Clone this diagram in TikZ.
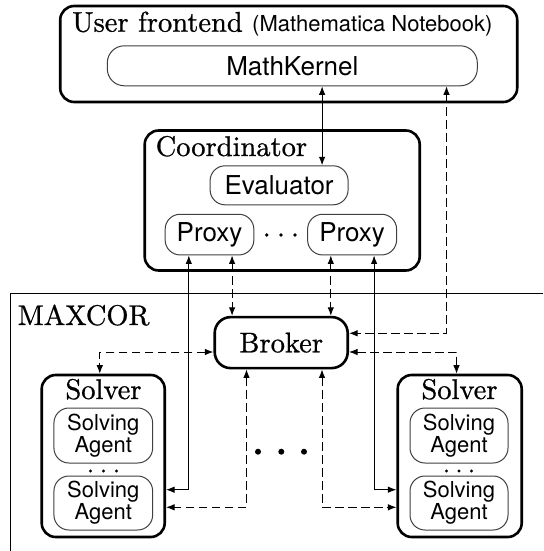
\documentclass[tikz,border=0pt]{standalone}
\usepackage{fontspec}
\setsansfont{TeX Gyre Heros}
\newfontfamily\tenSerif{lmroman10-regular.otf}[FakeBold=0.8]
\usetikzlibrary{arrows.meta}
\newcommand{\mySerifBig}{\tenSerif\fontsize{28.5}{32}\selectfont}
\newcommand{\mySansMid}{\sffamily\fontsize{26}{30}\selectfont}
\newcommand{\mySansSmall}{\sffamily\fontsize{22}{22}\selectfont}
\begin{document}
\begin{tikzpicture}[x=1pt,y=-1pt,
  bigbox/.style={draw,line width=2.6pt,rounded corners=14pt,inner sep=0pt,fill=white},
  inbox/.style={draw=black!75,line width=1pt,rounded corners=15pt,inner sep=0pt,fill=white},
  conn/.style={line width=1pt,{Latex[length=8.5pt,width=6.5pt]}-{Latex[length=8.5pt,width=6.5pt]}},
  dconn/.style={conn,dash pattern=on 8.5pt off 4.5pt},
  ttl/.style={inner sep=0pt,font=\mySerifBig},
  framestyle/.style={line width=1pt}]
\useasboundingbox (0,0) rectangle (543,551);
\fill[white] (0,0) rectangle (543,551);

% MAXCOR frame
\draw[framestyle] (10.4,551) -- (10.4,293.3) -- (543,293.3);
\node[ttl,anchor=base west] (mx) at (17.5,325) {MAXCOR};

% User frontend
\node[bigbox,minimum width=457pt,minimum height=96pt] (uf) at (288.7,54) {};
\node[ttl,anchor=base west] (uft) at (72,31.7) {User frontend {\mySansSmall(Mathematica Notebook)}};
\node[inbox,rounded corners=17pt,minimum width=370pt,minimum height=40pt,font=\mySansMid] (mk) at (292.3,65.8) {MathKernel};

% Coordinator
\node[bigbox,minimum width=275pt,minimum height=140pt] (co) at (282.2,200.5) {};
\node[ttl,anchor=base west] (cot) at (155.5,156) {Coordinator};
\node[inbox,minimum width=138pt,minimum height=39pt,font=\mySansMid] (ev) at (279.1,185.3) {Evaluator};
\node[inbox,minimum width=88.7pt,minimum height=40.7pt,font=\mySansMid] (p1) at (209.5,234.6) {Proxy};
\node[inbox,minimum width=89pt,minimum height=40.7pt,font=\mySansMid] (p2) at (352.1,234.6) {Proxy};
\fill (266.7,235) circle (1.8pt) (281,235) circle (1.8pt) (295,235) circle (1.8pt);

% Broker
\node[bigbox,rounded corners=16pt,minimum width=133pt,minimum height=51pt,font=\mySerifBig] (br) at (281.2,342.6) {Broker};

% Solvers
\node[bigbox,minimum width=123pt,minimum height=162pt] (sl) at (103.2,456) {};
\node[ttl,anchor=base] (slt) at (103.5,399) {Solver};
\fill (90.5,471) circle (1.6pt) (103.5,471) circle (1.6pt) (116.5,471) circle (1.6pt);
\node[inbox,minimum width=98.7pt,minimum height=55pt,align=center,font=\mySansSmall] (sl1) at (103.3,435.5) {Solving\\Agent};
\node[inbox,minimum width=98.7pt,minimum height=54pt,align=center,font=\mySansSmall] (sl2) at (103.3,503) {Solving\\Agent};

\node[bigbox,minimum width=124pt,minimum height=162pt] (sr) at (459.7,456) {};
\node[ttl,anchor=base] (srt) at (459.5,399) {Solver};
\fill (446.5,471) circle (1.6pt) (459,471) circle (1.6pt) (471.5,471) circle (1.6pt);
\node[inbox,minimum width=98pt,minimum height=55pt,align=center,font=\mySansSmall] (sr1) at (459,435.5) {Solving\\Agent};
\node[inbox,minimum width=98pt,minimum height=54pt,align=center,font=\mySansSmall] (sr2) at (459,503) {Solving\\Agent};

% big dots
\fill (258,451.7) circle (3pt) (281.3,451.7) circle (3pt) (304,451.7) circle (3pt);

% connectors
\coordinate (k1) at (322.1,0);
\coordinate (k2) at (446.5,333.3);
\coordinate (k3) at (188.8,489.7);
\coordinate (k4) at (232.1,0);
\coordinate (k5) at (330.8,0);
\coordinate (k6) at (374.1,489.7);
\coordinate (k7) at (99.8,352);
\coordinate (k8) at (456.5,352);
\coordinate (k9) at (246.5,507.3);
\coordinate (k10) at (322,507.3);

\draw[conn] (mk.south -| k1) -- (ev.north -| k1);
\draw[dconn] (mk.south -| k2) |- (br.east |- k2);
\draw[conn] (p1.south -| k3) |- (sl.east |- k3);
\draw[dconn] (p1.south -| k4) -- (br.north -| k4);
\draw[dconn] (p2.south -| k5) -- (br.north -| k5);
\draw[conn] (p2.south -| k6) |- (sr.west |- k6);
\draw[dconn] (br.west |- k7) -| (sl.north -| k7);
\draw[dconn] (br.east |- k8) -| (sr.north -| k8);
\draw[dconn] (br.south -| k9) |- (sl.east |- k9);
\draw[dconn] (br.south -| k10) |- (sr.west |- k10);
\end{tikzpicture}
\end{document}
